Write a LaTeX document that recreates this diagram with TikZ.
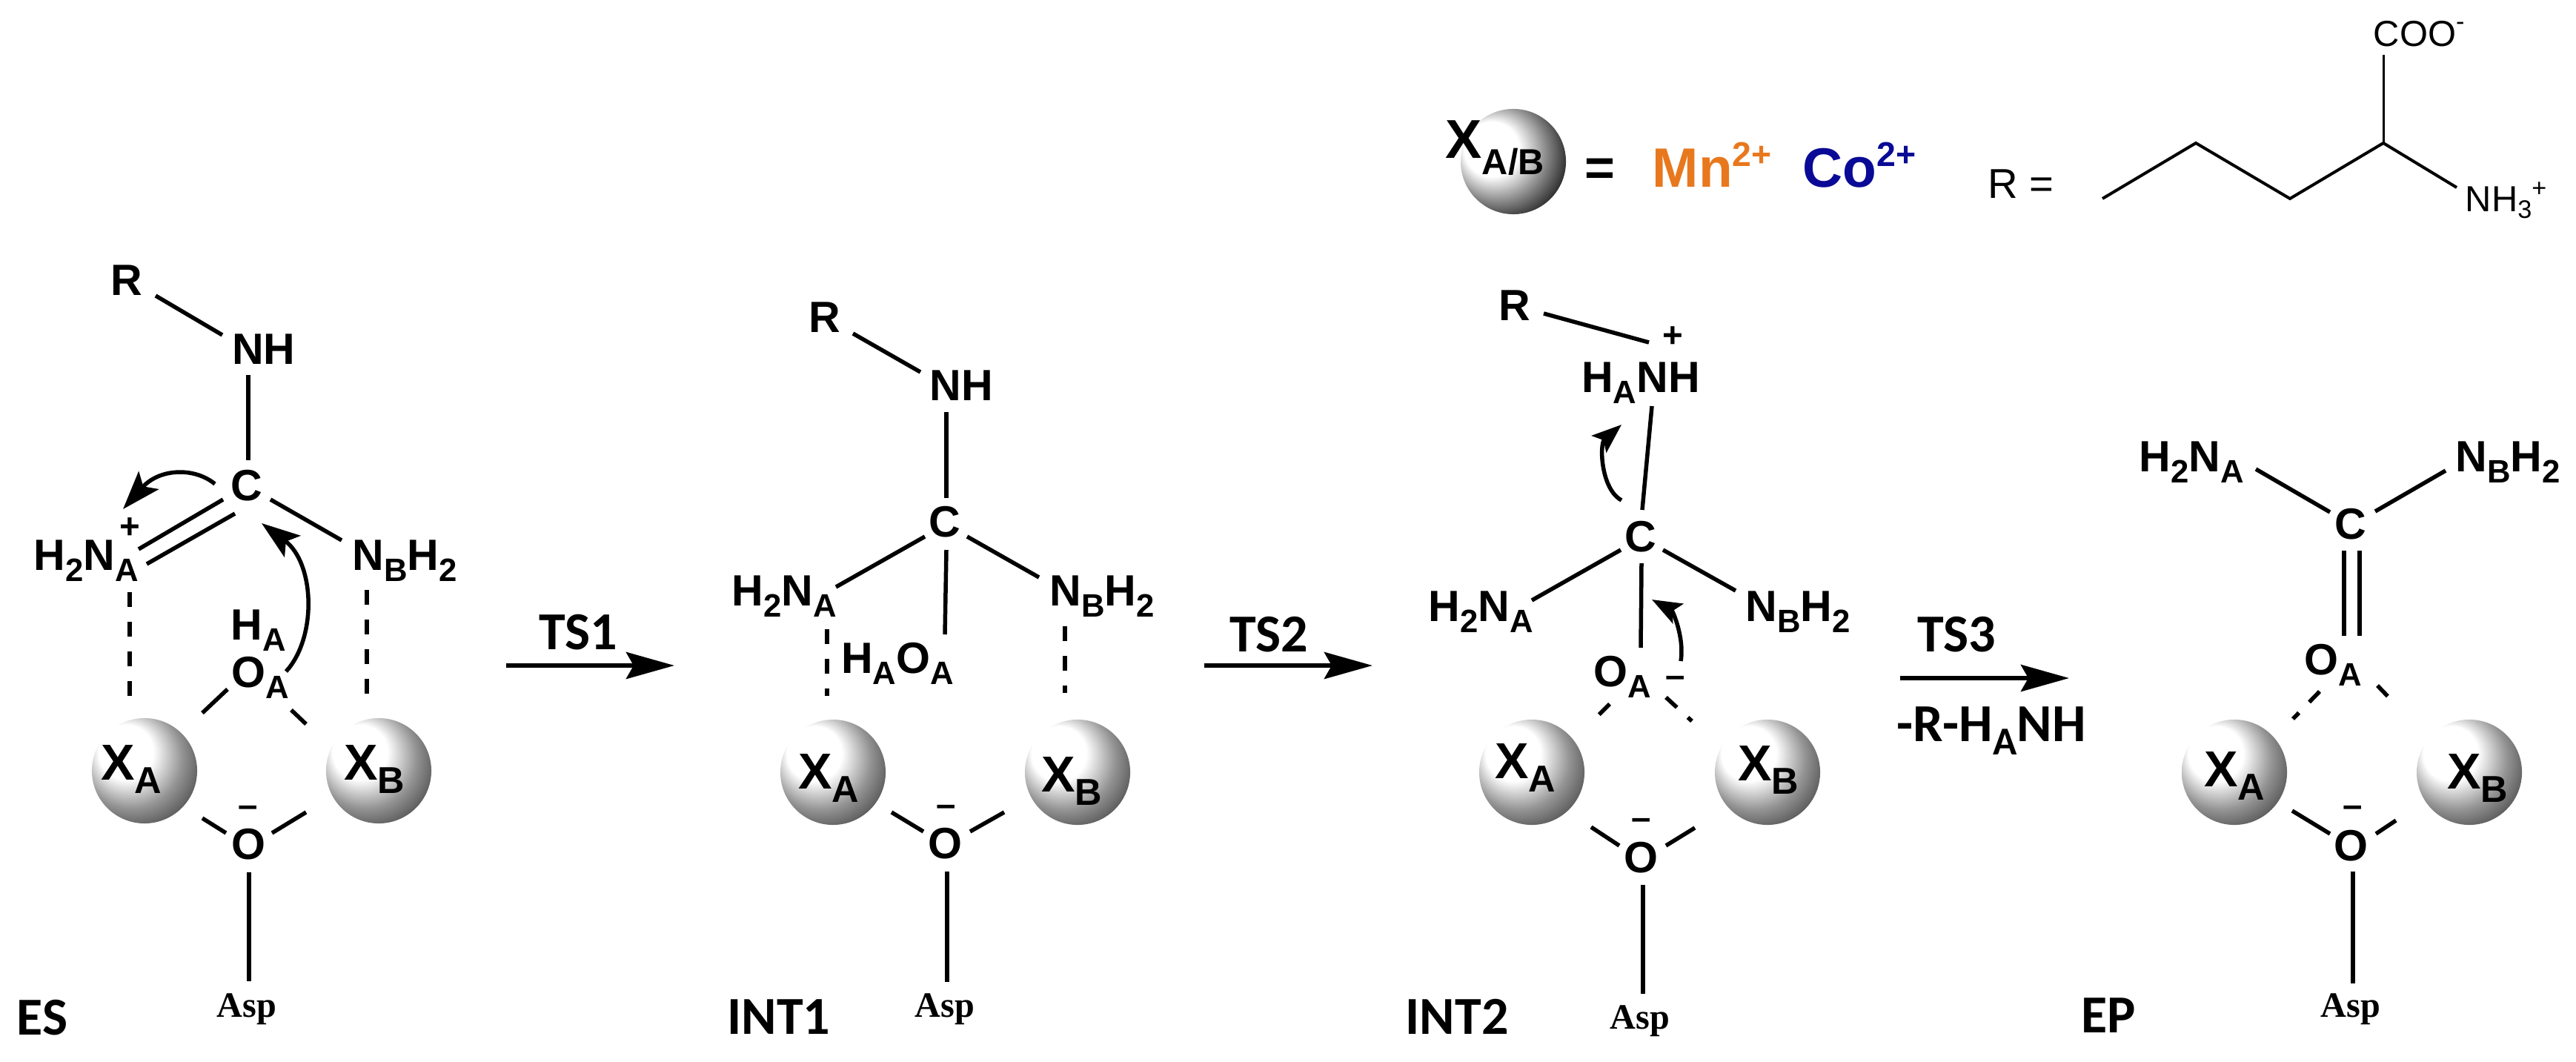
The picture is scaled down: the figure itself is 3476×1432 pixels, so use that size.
\documentclass[tikz,border=0pt]{standalone}
\usepackage{fontspec}
\usepackage{graphicx}
\setmainfont{Liberation Sans}
\newfontfamily\carl{Carlito}
\newfontfamily\serifb{Liberation Serif}
\usetikzlibrary{arrows.meta}
\pgfdeclareradialshading{ballshade}{\pgfpoint{-12bp}{12bp}}{color(0bp)=(white);color(13bp)=(white);color(24bp)=(black!42);color(33bp)=(black!68);color(50bp)=(black!68)}
\pgfdeclareradialshading{keyshade}{\pgfpoint{-14bp}{8bp}}{color(0bp)=(white);color(13bp)=(white);color(24bp)=(black!50);color(33bp)=(black!90);color(38bp)=(black);color(50bp)=(black)}
\definecolor{mnc}{HTML}{E8781E}
\definecolor{coc}{HTML}{0A0A96}
\newcommand{\sbs}[1]{\raisebox{-.26em}{\scalebox{.74}{#1}}}
\newcommand{\sps}[1]{\raisebox{.37em}{\scalebox{.62}{#1}}}
\tikzset{
  x=0.01cm,y=-0.01cm,
  atom/.style={inner sep=0pt,font=\bfseries\fontsize{16.8}{20}\selectfont,text height=.41cm,text depth=0pt},
  charge/.style={inner sep=0pt,font=\bfseries\fontsize{13.5}{16}\selectfont,text height=.2cm,text depth=0pt},
  metal/.style={inner sep=0pt,font=\bfseries\fontsize{19.4}{23}\selectfont,text height=.49cm,text depth=0pt},
  ball/.style={circle,inner sep=0pt,minimum size=1.42cm,shading=ballshade},
  asplab/.style={inner sep=0pt,font=\serifb\bfseries\fontsize{13.7}{16}\selectfont,text height=.32cm,text depth=0pt},
  stage/.style={inner sep=0pt,font=\carl\bfseries\fontsize{20.5}{24}\selectfont,text height=.46cm,text depth=0pt},
  key/.style={inner sep=0pt,anchor=base west,font=\bfseries\fontsize{21.3}{25}\selectfont},
  thinlab/.style={inner sep=0pt,anchor=base west,font=\fontsize{13.9}{16}\selectfont},
  bond/.style={line width=.55mm,black},
  dbond/.style={line width=.55mm,black,dash pattern=on 2mm off 2mm},
  chain/.style={line width=.4mm,black},
  curly/.style={line width=.55mm,black,-{Stealth[length=5.2mm,width=3.6mm,inset=1.1mm]}},
  curlys/.style={line width=.55mm,black,-{Stealth[length=4mm,width=3mm,inset=.8mm]}},
  react/.style={line width=.6mm,black,-{Stealth[length=6.5mm,width=3.6mm,inset=1mm]}}
}
\begin{document}
\begin{tikzpicture}
\useasboundingbox (0,0) rectangle (3476,1432);
\fill[white] (0,0) rectangle (3476,1432);
% ---------- ES
\node[atom] (r1) at (171,378) {R};
\node[atom] (nh1) at (356,471) {NH};
\node[atom] (c1) at (333,655) {C};
\node[atom] (na1) at (116,749) {H\sbs{2}N\sbs{A}};
\node[atom] (nb1) at (546,749) {N\sbs{B}H\sbs{2}};
\node[charge] (p1) at (175,716) {+};
\node[atom] (ha1) at (349,843) {H\sbs{A}};
\node[atom] (oa1) at (351,907) {O\sbs{A}};
\node[ball] (xa1) at (195,1040) {};
\node[ball] (xb1) at (511,1040) {};
\node[metal] (xla1) at (177,1028) {X\sbs{A}};
\node[metal] (xlb1) at (505,1028) {X\sbs{B}};
\node[atom] (o1) at (335,1139) {O};
\node[charge] (m1) at (335,1092) {–};
\node[asplab] (asp1) at (333,1356) {Asp};
\node[stage] (es) at (57,1373) {ES};
\draw[bond] ([shift={(39,21)}]r1.center) -- ([shift={(-56,-19)}]nh1.center);
\draw[bond] ([shift={(-21,35)}]nh1.center) -- ([shift={(2,-34)}]c1.center);
\draw[bond] ([shift={(-32,19)}]c1.center) -- ([shift={(71,-8)}]na1.center);
\draw[bond] ([shift={(-16,38)}]c1.center) -- ([shift={(82,12)}]na1.center);
\draw[bond] ([shift={(32,19)}]c1.center) -- ([shift={(-85,-20)}]nb1.center);
\draw[dbond] ([shift={(59,50)}]na1.center) -- ([shift={(-20,-97)}]xa1.center);
\draw[dbond] ([shift={(-51,47)}]nb1.center) -- ([shift={(-16,-97)}]xb1.center);
\draw[bond] ([shift={(-44,23)}]oa1.center) -- ([shift={(78,-78)}]xa1.center);
\draw[bond] ([shift={(42,51)}]oa1.center) -- ([shift={(-98,-63)}]xb1.center);
\draw[bond] ([shift={(-30,-15)}]o1.center) -- ([shift={(78,64)}]xa1.center);
\draw[bond] ([shift={(32,-15)}]o1.center) -- ([shift={(-98,56)}]xb1.center);
\draw[bond] ([shift={(1,38)}]o1.center) -- ([shift={(3,-32)}]asp1.center);
\draw[curly] ([shift={(-43,-2)}]c1.center) .. controls +(-28,-23) and +(49,-55) .. ([shift={(50,-62)}]na1.center);
\draw[curly] ([shift={(35,-1)}]oa1.center) .. controls +(42,-46) and +(72,54) .. ([shift={(20,51)}]c1.center);
% ---------- arrows
\coordinate (a1s) at (683,898); \coordinate (a1e) at (910,898);
\node[stage] (ts1) at (780,853) {TS1};
\draw[react] (a1s) -- (a1e);
\coordinate (a2s) at (1625,898); \coordinate (a2e) at (1852,898);
\node[stage] (ts2) at (1712,856) {TS2};
\draw[react] (a2s) -- (a2e);
\coordinate (a3s) at (2564,915); \coordinate (a3e) at (2792,915);
\node[stage] (ts3) at (2640,856) {TS3};
\node[stage] (loss) at (2687,977) {-R-H\sbs{A}NH};
\draw[react] (a3s) -- (a3e);
% ---------- INT1
\node[atom] (r2) at (1113,428) {R};
\node[atom] (nh2) at (1297,520) {NH};
\node[atom] (c2) at (1275,704) {C};
\node[atom] (na2) at (1058,797) {H\sbs{2}N\sbs{A}};
\node[atom] (nb2) at (1487,797) {N\sbs{B}H\sbs{2}};
\node[atom] (hoa2) at (1211,888) {H\sbs{A}O\sbs{A}};
\node[ball] (xa2) at (1124,1042) {};
\node[ball] (xb2) at (1454,1042) {};
\node[metal] (xla2) at (1118,1040) {X\sbs{A}};
\node[metal] (xlb2) at (1446,1044) {X\sbs{B}};
\node[atom] (o2) at (1275,1138) {O};
\node[charge] (m2) at (1277,1091) {–};
\node[asplab] (asp2) at (1275,1356) {Asp};
\node[stage] (int1) at (1051,1372) {INT1};
\draw[bond] ([shift={(38,22)}]r2.center) -- ([shift={(-55,-18)}]nh2.center);
\draw[bond] ([shift={(-20,36)}]nh2.center) -- ([shift={(2,-32)}]c2.center);
\draw[bond] ([shift={(-27,20)}]c2.center) -- ([shift={(70,-5)}]na2.center);
\draw[bond] ([shift={(30,20)}]c2.center) -- ([shift={(-85,-18)}]nb2.center);
\draw[bond] ([shift={(2,38)}]c2.center) -- ([shift={(64,-32)}]hoa2.center);
\draw[dbond] ([shift={(58,52)}]na2.center) -- ([shift={(-8,-103)}]xa2.center);
\draw[dbond] ([shift={(-50,48)}]nb2.center) -- ([shift={(-17,-107)}]xb2.center);
\draw[bond] ([shift={(-29,-16)}]o2.center) -- ([shift={(79,54)}]xa2.center);
\draw[bond] ([shift={(34,-16)}]o2.center) -- ([shift={(-99,54)}]xb2.center);
\draw[bond] ([shift={(3,38)}]o2.center) -- ([shift={(3,-31)}]asp2.center);
% ---------- INT2
\node[atom] (r3) at (2044,412) {R};
\node[atom] (hnh3) at (2214,509) {H\sbs{A}NH};
\node[charge] (p3) at (2257,458) {+};
\node[atom] (c3) at (2214,724) {C};
\node[atom] (na3) at (1998,818) {H\sbs{2}N\sbs{A}};
\node[atom] (nb3) at (2426,818) {N\sbs{B}H\sbs{2}};
\node[atom] (oa3) at (2189,906) {O\sbs{A}};
\node[charge] (m3) at (2261,917) {–};
\node[ball] (xa3) at (2067,1042) {};
\node[ball] (xb3) at (2385,1042) {};
\node[metal] (xla3) at (2058,1026) {X\sbs{A}};
\node[metal] (xlb3) at (2386,1029) {X\sbs{B}};
\node[atom] (o3) at (2214,1157) {O};
\node[charge] (m4) at (2215,1109) {–};
\node[asplab] (asp3) at (2213,1372) {Asp};
\node[stage] (int2) at (1966,1372) {INT2};
\draw[bond] ([shift={(39,11)}]r3.center) -- ([shift={(11,-47)}]hnh3.center);
\draw[bond] ([shift={(15,39)}]hnh3.center) -- ([shift={(2,-36)}]c3.center);
\draw[bond] ([shift={(-27,18)}]c3.center) -- ([shift={(69,-8)}]na3.center);
\draw[bond] ([shift={(30,18)}]c3.center) -- ([shift={(-84,-21)}]nb3.center);
\draw[bond] ([shift={(1,36)}]c3.center) -- ([shift={(25,-32)}]oa3.center);
\draw[dbond] ([shift={(-17,44)}]oa3.center) -- ([shift={(78,-65)}]xa3.center);
\draw[dbond] ([shift={(59,35)}]oa3.center) -- ([shift={(-102,-69)}]xb3.center);
\draw[bond] ([shift={(-29,-16)}]o3.center) -- ([shift={(80,74)}]xa3.center);
\draw[bond] ([shift={(34,-16)}]o3.center) -- ([shift={(-98,75)}]xb3.center);
\draw[bond] ([shift={(3,37)}]o3.center) -- ([shift={(4,-31)}]asp3.center);
\draw[curlys] ([shift={(-26,-49)}]c3.center) .. controls +(-28,-15) and +(-30,26) .. ([shift={(-26,64)}]hnh3.center);
\draw[curlys] ([shift={(79,-14)}]oa3.center) .. controls +(5,-32) and +(28,15) .. ([shift={(15,85)}]c3.center);
% ---------- EP
\node[atom] (na4) at (2957,616) {H\sbs{2}N\sbs{A}};
\node[atom] (nb4) at (3384,616) {N\sbs{B}H\sbs{2}};
\node[atom] (c4) at (3172,707) {C};
\node[atom] (oa4) at (3148,890) {O\sbs{A}};
\node[ball] (xa4) at (3015,1042) {};
\node[ball] (xb4) at (3332,1042) {};
\node[metal] (xla4) at (3015,1037) {X\sbs{A}};
\node[metal] (xlb4) at (3343,1040) {X\sbs{B}};
\node[atom] (o4) at (3172,1141) {O};
\node[charge] (m5) at (3175,1092) {–};
\node[asplab] (asp4) at (3172,1356) {Asp};
\node[stage] (ep) at (2845,1370) {EP};
\draw[bond] ([shift={(87,17)}]na4.center) -- ([shift={(-28,-16)}]c4.center);
\draw[bond] ([shift={(-84,19)}]nb4.center) -- ([shift={(33,-17)}]c4.center);
\draw[bond] ([shift={(-9,36)}]c4.center) -- ([shift={(15,-32)}]oa4.center);
\draw[bond] ([shift={(12,36)}]c4.center) -- ([shift={(36,-32)}]oa4.center);
\draw[dbond] ([shift={(-18,43)}]oa4.center) -- ([shift={(79,-72)}]xa4.center);
\draw[dbond] ([shift={(60,35)}]oa4.center) -- ([shift={(-99,-91)}]xb4.center);
\draw[bond] ([shift={(-28,-16)}]o4.center) -- ([shift={(78,52)}]xa4.center);
\draw[bond] ([shift={(34,-16)}]o4.center) -- ([shift={(-99,65)}]xb4.center);
\draw[bond] ([shift={(3,35)}]o4.center) -- ([shift={(3,-29)}]asp4.center);
% ---------- key
\node[ball,shading=keyshade] (kball) at (2042,218) {};
\node[inner sep=0pt,anchor=base west,font=\bfseries\fontsize{21}{25}\selectfont] (kx) at (1950,213) {X\raisebox{-.3em}{\scalebox{.66}{A/B}}};
\node[inner sep=0pt,anchor=base,font=\bfseries\fontsize{19.9}{24}\selectfont] (keq) at (2159,250) {=};
\node[key,text=mnc] (mn) at (2229,252) {Mn\sps{2+}};
\node[key,text=coc] (co) at (2432,252) {Co\sps{2+}};
\node[inner sep=0pt,anchor=base west,font=\fontsize{16}{19}\selectfont] (rdef) at (2682,267) {R =};
\coordinate (k0) at (2837,268);
\coordinate (k1) at (2963,193);
\coordinate (k2) at (3090,268);
\coordinate (k3) at (3216,193);
\node[thinlab] (coo) at (3202,62) {COO\raisebox{.45em}{\scalebox{.7}{-}}};
\node[thinlab] (nh3) at (3326,285) {NH\raisebox{-.2em}{\scalebox{.7}{3}}\raisebox{.4em}{\scalebox{.7}{+}}};
\draw[chain] (k0) -- (k1) -- (k2) -- (k3) -- ([shift={(-11,-32)}]nh3.base west);
\draw[line width=.3mm] (k3) -- ([shift={(14,12)}]coo.base west);
\end{tikzpicture}
\end{document}
